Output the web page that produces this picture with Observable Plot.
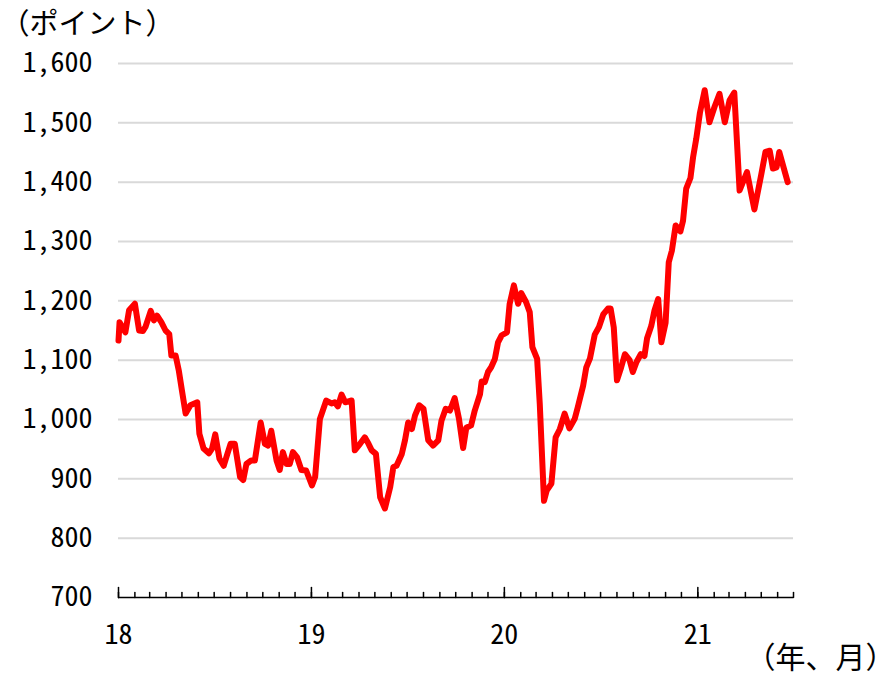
<!DOCTYPE html>
<html><head><meta charset="utf-8">
<script src="https://cdn.jsdelivr.net/npm/d3@7"></script>
<script src="https://cdn.jsdelivr.net/npm/@observablehq/plot@0.6"></script>
<style>body{margin:0;background:#fff}</style>
</head><body><div id="chart"></div>
<script>
const dates2018 = ["2018-01-01","2018-01-03","2018-01-14","2018-01-21","2018-02-01","2018-02-09","2018-02-16","2018-02-21","2018-03-03","2018-03-09","2018-03-15","2018-03-23","2018-03-31","2018-04-07","2018-04-11","2018-04-19","2018-04-25","2018-05-01","2018-05-08","2018-05-17","2018-05-30","2018-06-03","2018-06-11","2018-06-21","2018-06-27","2018-07-03","2018-07-11","2018-07-19","2018-07-26","2018-08-01","2018-08-09","2018-08-19","2018-08-25","2018-08-31","2018-09-09","2018-09-16","2018-09-27","2018-10-05","2018-10-11","2018-10-17","2018-10-27","2018-11-02","2018-11-08","2018-11-15","2018-11-21","2018-11-27","2018-12-05","2018-12-13","2018-12-22"];
const values2018 = [1133,1164,1147,1184,1195,1150,1149,1156,1183,1167,1175,1164,1150,1144,1108,1108,1083,1049,1010,1024,1029,976,951,943,951,975,934,922,942,959,959,903,898,925,931,931,995,959,956,981,931,915,945,925,925,945,936,915,914];
const dates2019 = ["2019-01-02","2019-01-08","2019-01-17","2019-01-29","2019-02-08","2019-02-14","2019-02-20","2019-02-27","2019-03-06","2019-03-18","2019-03-24","2019-04-03","2019-04-12","2019-04-19","2019-04-25","2019-05-03","2019-05-11","2019-05-20","2019-05-30","2019-06-05","2019-06-11","2019-06-21","2019-06-27","2019-07-03","2019-07-10","2019-07-16","2019-07-24","2019-08-01","2019-08-10","2019-08-19","2019-08-29","2019-09-04","2019-09-12","2019-09-20","2019-09-29","2019-10-07","2019-10-15","2019-10-21","2019-10-30","2019-11-06","2019-11-16","2019-11-19","2019-11-25","2019-12-01","2019-12-07","2019-12-14","2019-12-20","2019-12-27"];
const values2019 = [889,903,1001,1032,1027,1029,1022,1042,1029,1032,948,959,970,959,948,942,869,850,886,920,922,942,965,995,984,1007,1024,1018,965,956,965,998,1018,1015,1036,1002,952,986,990,1015,1043,1064,1063,1080,1088,1102,1130,1142];
const dates2020 = ["2020-01-06","2020-01-11","2020-01-19","2020-01-27","2020-02-02","2020-02-11","2020-02-18","2020-02-23","2020-03-03","2020-03-08","2020-03-16","2020-03-21","2020-03-30","2020-04-07","2020-04-15","2020-04-24","2020-05-03","2020-05-13","2020-05-19","2020-05-29","2020-06-04","2020-06-11","2020-06-20","2020-06-28","2020-07-06","2020-07-15","2020-07-20","2020-07-26","2020-08-01","2020-08-09","2020-08-16","2020-08-25","2020-08-31","2020-09-07","2020-09-15","2020-09-22","2020-09-27","2020-10-05","2020-10-11","2020-10-18","2020-10-24","2020-11-01","2020-11-07","2020-11-13","2020-11-20","2020-11-29","2020-12-04","2020-12-10","2020-12-18","2020-12-23","2020-12-29"];
const values2020 = [1147,1195,1226,1195,1213,1198,1181,1122,1102,1026,863,880,892,970,984,1010,985,1001,1021,1057,1088,1103,1143,1156,1177,1187,1187,1155,1066,1088,1110,1100,1080,1097,1110,1107,1137,1158,1184,1203,1130,1163,1265,1285,1327,1317,1335,1389,1407,1442,1473];
const dates2021 = ["2021-01-05","2021-01-14","2021-01-23","2021-02-02","2021-02-11","2021-02-21","2021-03-02","2021-03-11","2021-03-21","2021-04-04","2021-04-18","2021-05-01","2021-05-09","2021-05-17","2021-05-23","2021-05-30","2021-06-04","2021-06-20"];
const values2021 = [1517,1555,1501,1528,1549,1501,1538,1551,1386,1417,1354,1413,1451,1453,1423,1425,1451,1400];

const yTicks = [700,800,900,1000,1100,1200,1300,1400,1500,1600];
const yearTicks = ["2018-01-01","2019-01-01","2020-01-01","2021-01-01"];
const yearLabels = ["18","19","20","21"];
const yUnit = "（ポイント）";
const xUnit = "（年、月）";

const allDates = [...dates2018, ...dates2019, ...dates2020, ...dates2021];
const allValues = [...values2018, ...values2019, ...values2020, ...values2021];
const data = allDates.map((d, i) => ({date: new Date(d), value: allValues[i]}));
const yearDates = yearTicks.map(d => new Date(d));
const months = d3.utcMonth.range(new Date("2018-01-01"), new Date("2021-07-02"));
const tickShape = {draw(ctx, l) { ctx.moveTo(0, 0); ctx.lineTo(0, -l); }};
const font = "'Noto Sans Mono CJK JP','Noto Sans CJK JP',sans-serif";

const chart = Plot.plot({
  width: 895, height: 679,
  marginLeft: 118, marginRight: 102, marginTop: 63, marginBottom: 82,
  style: {fontFamily: font, fontSize: "28px", background: "white", color: "black", overflow: "visible"},
  x: {type: "utc", domain: [new Date("2018-01-01"), new Date("2021-07-01")], label: null},
  y: {domain: [700, 1600], label: null},
  marks: [
    Plot.gridY(yTicks.filter(t => t > 700), {stroke: "#d9d9d9", strokeOpacity: 1, strokeWidth: 2}),
    Plot.axisY(yTicks, {tickSize: 0, tickPadding: 26, tickFormat: d3.format(","), fontSize: 28, label: null}),
    Plot.line(data, {x: "date", y: "value", stroke: "#ff0000", strokeWidth: 6, strokeLinejoin: "round"}),
    Plot.ruleY([700], {stroke: "black", strokeWidth: 1.5}),
    Plot.vectorX(months, {x: d => d, frameAnchor: "bottom", length: 5, anchor: "start", shape: tickShape, stroke: "black", strokeWidth: 1.5}),
    Plot.vectorX(yearDates, {x: d => d, frameAnchor: "bottom", length: 10, anchor: "start", shape: tickShape, stroke: "black", strokeWidth: 1.5}),
    Plot.axisX(yearDates, {tickSize: 0, tickPadding: 27, tickFormat: d => yearLabels[d.getUTCFullYear() - 2018], fontSize: 28, label: null}),
    Plot.text([yUnit], {frameAnchor: "top-left", dx: -118, dy: -50, textAnchor: "start", fontSize: 29}),
    Plot.text([xUnit], {frameAnchor: "bottom-right", dx: 102, dy: 70, textAnchor: "end", fontSize: 30})
  ]
});
document.getElementById("chart").appendChild(chart);
</script>
</body></html>
